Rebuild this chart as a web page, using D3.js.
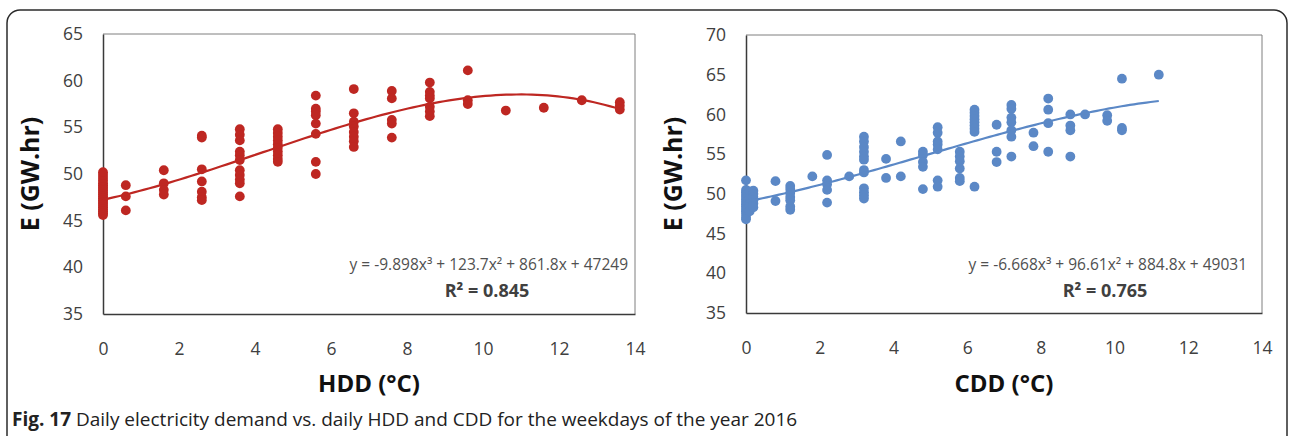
<!DOCTYPE html>
<html><head><meta charset="utf-8">
<script src="https://cdn.jsdelivr.net/npm/d3@7"></script>
<style>
html,body{margin:0;padding:0;background:#fff;}
svg{display:block;}
</style></head>
<body>
<svg id="c" width="1291" height="436"></svg>
<script>
// ---------- data ----------
const hddX = [0,0.6,1.6,2.6,3.6,4.6,5.6,6.6,7.6,8.6,9.6,10.6,11.6,12.6,13.6];
const hddE = [
  [45.6,45.8,46.0,46.2,46.4,46.6,46.8,47.0,47.2,47.4,47.6,47.8,48.0,48.2,48.4,48.6,48.8,49.0,49.3,49.6,49.9,50.2],
  [48.8,47.6,46.1],
  [50.4,49.0,48.3,47.8],
  [54.1,53.9,50.5,49.2,48.1,47.5,47.2],
  [54.8,54.2,53.6,52.4,52.0,51.5,50.4,49.9,49.4,49.0,47.6],
  [54.8,54.4,54.0,53.6,53.2,52.8,52.4,52.0,51.6,51.3],
  [58.4,57.0,56.7,56.3,55.4,54.3,51.3,50.0],
  [59.1,56.5,55.6,55.1,54.5,54.0,53.5,52.9],
  [58.9,58.1,55.8,55.4,53.9],
  [59.8,58.8,58.4,58.1,57.2,56.7,56.2],
  [61.1,57.9,57.5],
  [56.8],
  [57.1],
  [57.9],
  [57.7,57.3,56.9]
];
const cddX = [0,0.1,0.2,0.8,1.2,1.8,2.2,2.8,3.2,3.8,4.2,4.8,5.2,5.8,6.2,6.8,7.2,7.8,8.2,8.8,9.2,9.8,10.2,11.2];
const cddE = [
  [51.7,50.5,50.2,49.9,49.6,49.3,49.0,48.7,48.4,48.1,47.8,47.5,47.1,46.8],
  [50.3,49.5,48.5,47.8],
  [50.4,50.0,49.6,49.2,48.8,48.3],
  [51.6,49.1],
  [51.0,50.6,50.1,49.6,49.2,48.4,48.0],
  [52.2],
  [54.9,51.7,51.2,50.5,48.9],
  [52.2],
  [57.2,56.6,55.9,55.3,54.7,54.3,53.0,52.7,50.7,50.2,49.8,49.4],
  [54.4,52.0],
  [56.6,52.2],
  [55.3,54.9,54.0,53.4,50.6],
  [58.4,57.7,56.6,56.2,55.6,51.7,50.9],
  [55.3,54.7,54.1,53.2,52.0,51.6],
  [60.6,60.2,59.8,59.4,59.0,58.6,58.2,57.8,50.9],
  [58.7,55.3,54.0],
  [61.2,60.7,59.6,59.0,58.0,57.2,54.7],
  [57.7,56.0],
  [62.0,60.6,58.9,55.3],
  [60.0,58.6,58.0,54.7],
  [60.0],
  [59.9,59.2],
  [64.5,58.3,58.0],
  [65.0]
];
// trendline coefficients as displayed (MW.hr): a3, a2, a1, a0
const hddCoef = [-9.898, 123.7, 861.8, 47249];
const cddCoef = [-6.668, 96.61, 884.8, 49031];
const hddEq = "y = -9.898x³ + 123.7x² + 861.8x + 47249";
const cddEq = "y = -6.668x³ + 96.61x² + 884.8x + 49031";
const hddR2 = "R² = 0.845";
const cddR2 = "R² = 0.765";
const xTicks = [0,2,4,6,8,10,12,14];
const hddYTicks = [35,40,45,50,55,60,65];
const cddYTicks = [35,40,45,50,55,60,65,70];
const yTitle = "E (GW.hr)";
const hddTitle = "HDD (°C)";
const cddTitle = "CDD (°C)";
const captionBold = "Fig. 17";
const captionText = " Daily electricity demand vs. daily HDD and CDD for the weekdays of the year 2016";

// ---------- drawing ----------
const svg = d3.select("#c");
const FONT = "'Open Sans', sans-serif";

// outer rounded frame
svg.append("rect").attr("x",7).attr("y",10).attr("width",1280).attr("height",480)
  .attr("rx",13).attr("fill","none").attr("stroke","#2b2b2b").attr("stroke-width",1.5);

function panel(cfg){
  const x = d3.scaleLinear().domain([0,14]).range([cfg.x0,cfg.x1]);
  const y = d3.scaleLinear().domain(cfg.yDom).range([cfg.yb,cfg.yt]);
  const g = svg.append("g");
  // frame top/right
  g.append("line").attr("x1",x(0)).attr("x2",x(14)).attr("y1",y(cfg.yDom[1])).attr("y2",y(cfg.yDom[1]))
    .attr("stroke","#7f7f7f").attr("stroke-width",1);
  g.append("line").attr("x1",x(14)).attr("x2",x(14)).attr("y1",y(cfg.yDom[0])).attr("y2",y(cfg.yDom[1]))
    .attr("stroke","#7f7f7f").attr("stroke-width",1);
  // axes
  const xa = d3.axisBottom(x).tickValues(cfg.xTicks).tickSize(0).tickPadding(29);
  const ya = d3.axisLeft(y).tickValues(cfg.yTicks).tickSize(0).tickPadding(20);
  const gx = g.append("g").attr("transform",`translate(0,${y(cfg.yDom[0])})`).call(xa);
  const gy = g.append("g").attr("transform",`translate(${x(0)},0)`).call(ya);
  [gx,gy].forEach(a=>{
    a.select(".domain").attr("stroke","#3a3a3a").attr("stroke-width",1.5);
    a.selectAll("text").attr("font-family",FONT).attr("font-size",17.5).attr("fill","#404040");
  });
  // points
  const pts = [];
  cfg.xs.forEach((xv,i)=>cfg.es[i].forEach(ev=>pts.push([xv,ev])));
  g.append("g").selectAll("circle").data(pts).join("circle")
    .attr("cx",d=>x(d[0])).attr("cy",d=>y(d[1])).attr("r",4.9).attr("fill",cfg.color);
  // trendline from displayed equation
  const c = cfg.coef;
  const xmax = d3.max(cfg.xs);
  const tl = d3.range(0, xmax+1e-9, xmax/100).map(t=>[t,(c[0]*t*t*t+c[1]*t*t+c[2]*t+c[3])/1000]);
  g.append("path").datum(tl).attr("fill","none").attr("stroke",cfg.color).attr("stroke-width",2.2)
    .attr("d",d3.line().x(d=>x(d[0])).y(d=>y(d[1])));
  // equation
  g.append("text").attr("x",cfg.eqX).attr("y",270).attr("text-anchor","end")
    .attr("font-family",FONT).attr("font-size",15.5).attr("fill","#505050").text(cfg.eq);
  g.append("text").attr("x",cfg.r2X).attr("y",297).attr("text-anchor","middle")
    .attr("font-family",FONT).attr("font-size",18).attr("font-weight","bold").attr("fill","#404040").text(cfg.r2);
  // axis titles
  g.append("text").attr("x",(cfg.x0+cfg.x1)/2).attr("y",392).attr("text-anchor","middle")
    .attr("font-family",FONT).attr("font-size",24).attr("font-weight","bold").attr("fill","#111").text(cfg.xTitle);
  g.append("text").attr("transform",`translate(${cfg.yTitleX},174) rotate(-90)`).attr("text-anchor","middle")
    .attr("font-family",FONT).attr("font-size",25).attr("font-weight","bold").attr("fill","#111").text(yTitle);
}

panel({x0:103,x1:635,yt:34,yb:314,yDom:[35,65],xTicks:xTicks,yTicks:hddYTicks,
  xs:hddX,es:hddE,coef:hddCoef,color:"#BE2722",eq:hddEq,r2:hddR2,eqX:628,r2X:487,
  xTitle:hddTitle,yTitleX:39});
panel({x0:746,x1:1262,yt:35,yb:313,yDom:[35,70],xTicks:xTicks,yTicks:cddYTicks,
  xs:cddX,es:cddE,coef:cddCoef,color:"#5B88C6",eq:cddEq,r2:cddR2,eqX:1247,r2X:1105,
  xTitle:cddTitle,yTitleX:682});

// caption
const cap = svg.append("text").attr("x",12).attr("y",426).attr("font-family",FONT).attr("font-size",19).attr("fill","#222");
cap.append("tspan").attr("font-weight","bold").text(captionBold);
cap.append("tspan").text(captionText);
</script>
</body></html>
